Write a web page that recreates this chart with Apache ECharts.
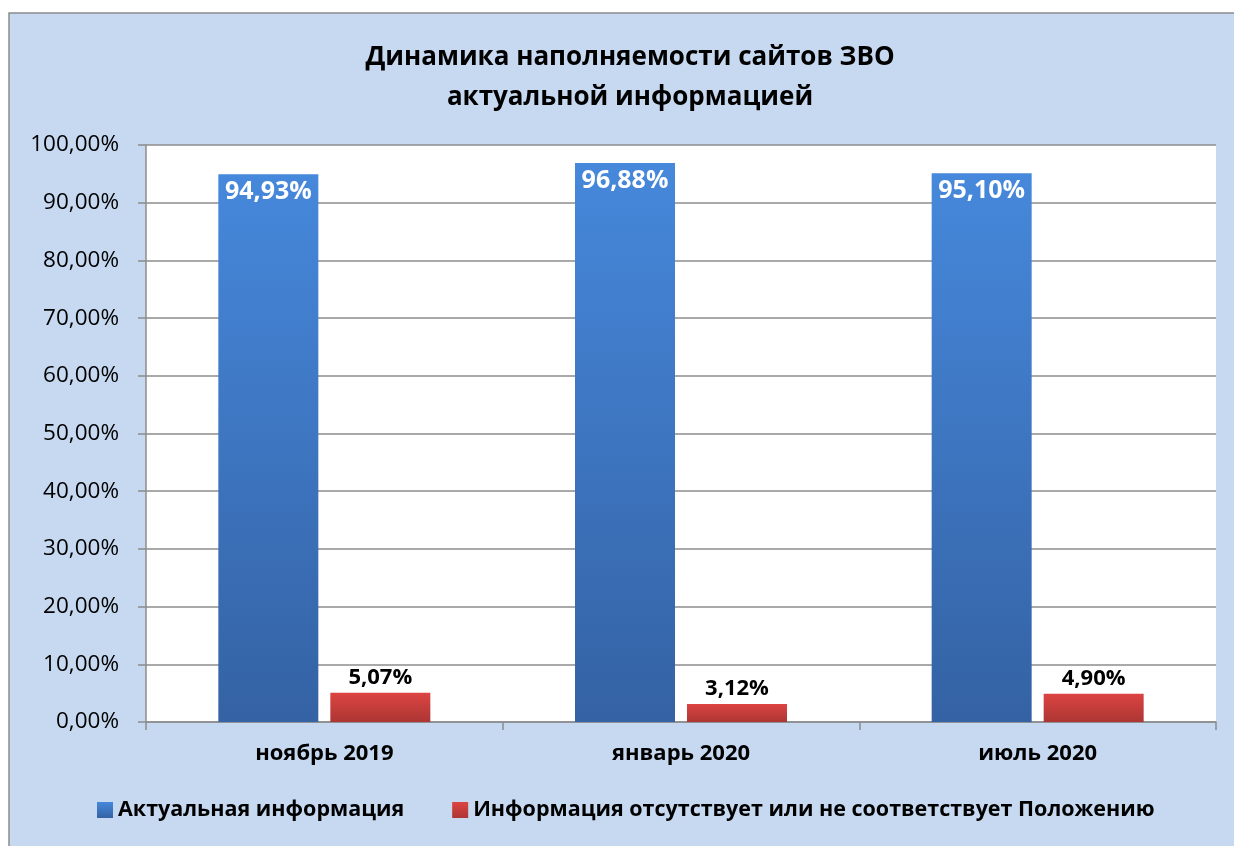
<!DOCTYPE html>
<html>
<head>
<meta charset="utf-8">
<script src="https://cdn.jsdelivr.net/npm/echarts@6/dist/echarts.min.js"></script>
<style>
  html, body { margin: 0; padding: 0; background: #fff; }
  #chart { width: 1234px; height: 846px; }
</style>
</head>
<body>
<div id="chart"></div>
<script>
  // данные диаграммы
  const categories = ['ноябрь 2019', 'январь 2020', 'июль 2020']
  const actualInfo = [94.93, 96.88, 95.10]
  const missingInfo = [5.07, 3.12, 4.90]
  const seriesNames = ['Актуальная информация', 'Информация отсутствует или не соответствует Положению']

  const fontFamily = '"Open Sans", "Noto Sans", sans-serif'
  const fmt = v => v.toFixed(2).replace('.', ',') + '%'

  const chart = echarts.init(document.getElementById('chart'))

  const option = {
    backgroundColor: '#fff',
    textStyle: { fontFamily: fontFamily },
    graphic: [
      {
        type: 'rect',
        z: -10,
        shape: { x: 9, y: 13, width: 1240, height: 850 },
        style: { fill: '#c6d9f1', stroke: '#8c8c8c', lineWidth: 1.5 }
      }
    ],
    title: {
      text: 'Динамика наполняемости сайтов ЗВО\nактуальной информацией',
      left: 625,
      textAlign: 'center',
      top: 33,
      textStyle: {
        fontFamily: fontFamily,
        fontSize: 26,
        fontWeight: 'bold',
        color: '#000',
        lineHeight: 40
      }
    },
    legend: {
      data: seriesNames,
      top: 794,
      left: 92,
      itemWidth: 16,
      itemHeight: 16,
      itemGap: 48,
      icon: 'rect',
      textStyle: {
        fontFamily: fontFamily,
        fontSize: 21.5,
        fontWeight: 'bold',
        color: '#000'
      }
    },
    grid: {
      left: 146,
      right: 18,
      top: 145,
      bottom: 124,
      show: true,
      backgroundColor: '#fff',
      borderWidth: 0
    },
    xAxis: {
      type: 'category',
      data: categories,
      axisLine: { lineStyle: { color: '#8c8c8c', width: 1.5 } },
      axisTick: { show: true, alignWithLabel: false, length: 8, lineStyle: { color: '#8c8c8c', width: 1.5 } },
      axisLabel: {
        color: '#000',
        fontFamily: fontFamily,
        fontSize: 22,
        fontWeight: 'bold',
        margin: 21
      }
    },
    yAxis: {
      type: 'value',
      min: 0,
      max: 100,
      interval: 10,
      axisLine: { show: true, lineStyle: { color: '#8c8c8c', width: 1.5 } },
      axisTick: { show: true, length: 8, lineStyle: { color: '#8c8c8c', width: 1.5 } },
      axisLabel: {
        color: '#000',
        fontFamily: fontFamily,
        fontSize: 22.5,
        margin: 27,
        formatter: fmt
      },
      splitLine: { lineStyle: { color: '#8c8c8c', width: 1.5 } }
    },
    series: [
      {
        name: seriesNames[0],
        type: 'bar',
        barWidth: 100,
        barGap: '12%',
        data: actualInfo,
        itemStyle: {
          color: new echarts.graphic.LinearGradient(0, 0, 0, 1, [
            { offset: 0, color: '#4688db' },
            { offset: 1, color: '#3462a4' }
          ])
        },
        label: {
          show: true,
          position: 'insideTop',
          distance: 5,
          color: '#fff',
          fontFamily: fontFamily,
          fontSize: 25,
          fontWeight: 'bold',
          formatter: p => fmt(p.value)
        }
      },
      {
        name: seriesNames[1],
        type: 'bar',
        barWidth: 100,
        data: missingInfo,
        itemStyle: {
          color: new echarts.graphic.LinearGradient(0, 0, 0, 1, [
            { offset: 0, color: '#dc4442' },
            { offset: 1, color: '#ac3634' }
          ])
        },
        label: {
          show: true,
          position: 'top',
          distance: 4,
          color: '#000',
          fontFamily: fontFamily,
          fontSize: 22,
          fontWeight: 'bold',
          formatter: p => fmt(p.value)
        }
      }
    ]
  }

  chart.setOption(option)
</script>
</body>
</html>
